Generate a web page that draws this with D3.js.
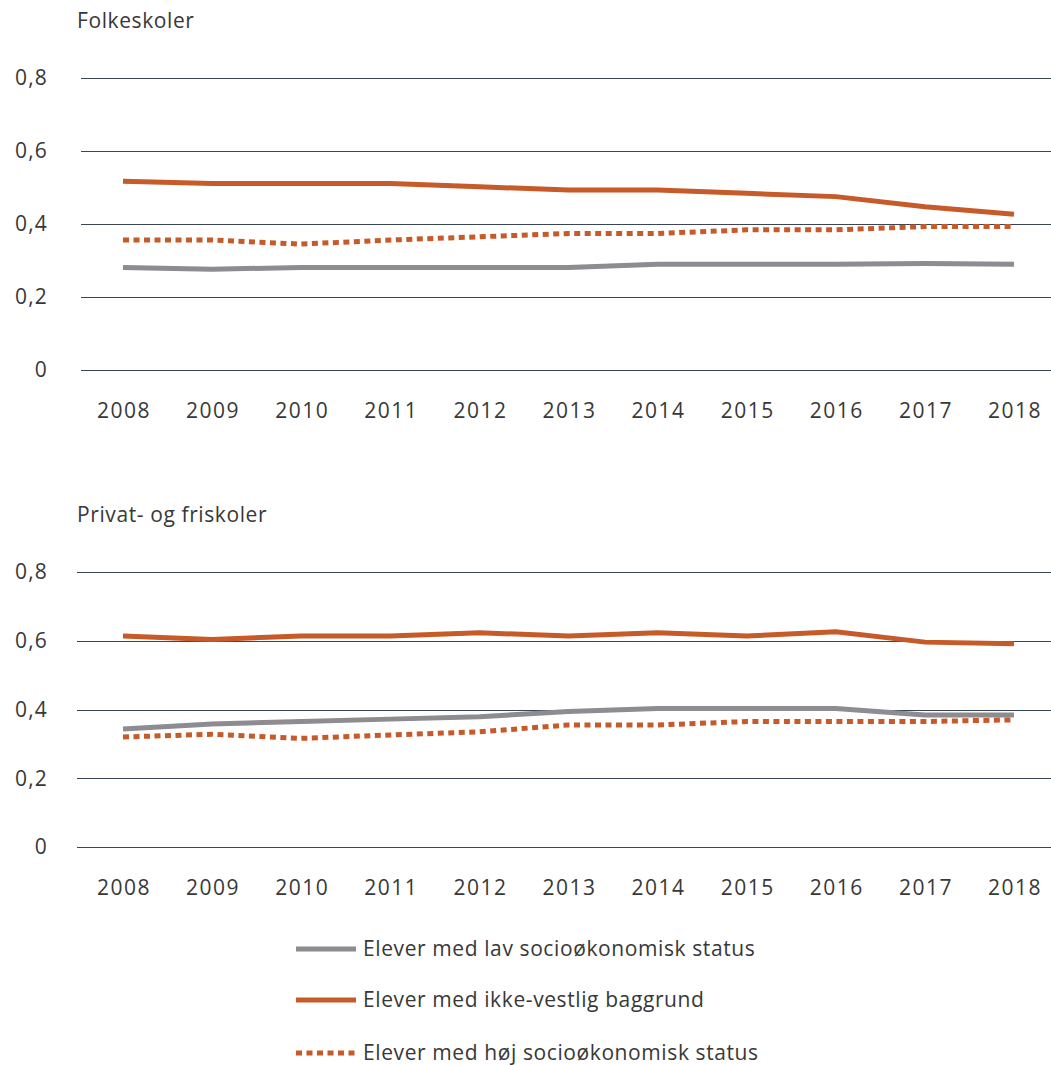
<!DOCTYPE html>
<html>
<head>
<meta charset="utf-8">
<script src="https://cdn.jsdelivr.net/npm/d3@7"></script>
<style>
  body { margin: 0; background: #fff; }
  text { font-family: "Open Sans", sans-serif; font-weight: 400; fill: #383838; font-size: 21px; letter-spacing: 0.6px; }
</style>
</head>
<body>
<div id="chart"></div>
<script>
// data
const years = [2008, 2009, 2010, 2011, 2012, 2013, 2014, 2015, 2016, 2017, 2018];
const yTicks = [0, 0.2, 0.4, 0.6, 0.8];

const folkLav  = [0.281, 0.276, 0.281, 0.281, 0.281, 0.281, 0.290, 0.290, 0.290, 0.292, 0.290];
const folkIkke = [0.517, 0.511, 0.511, 0.511, 0.502, 0.493, 0.493, 0.484, 0.475, 0.447, 0.427];
const folkHoj  = [0.356, 0.356, 0.345, 0.356, 0.365, 0.374, 0.374, 0.384, 0.384, 0.393, 0.393];

const privLav  = [0.343, 0.358, 0.365, 0.372, 0.379, 0.394, 0.403, 0.403, 0.403, 0.384, 0.384];
const privIkke = [0.614, 0.604, 0.614, 0.614, 0.623, 0.614, 0.623, 0.614, 0.626, 0.596, 0.591];
const privHoj  = [0.320, 0.328, 0.316, 0.326, 0.335, 0.355, 0.355, 0.365, 0.365, 0.365, 0.370];

const legendLabels = [
  "Elever med lav socioøkonomisk status",
  "Elever med ikke-vestlig baggrund",
  "Elever med høj socioøkonomisk status"
];

const GRAY = "#8c8c91";
const ORANGE = "#c65a28";
const styles = [
  { color: GRAY, dash: null },
  { color: ORANGE, dash: null },
  { color: ORANGE, dash: "6,4.5" }
];

const width = 1051, height = 1065;
const svg = d3.select("#chart").append("svg")
    .attr("width", width)
    .attr("height", height);

const x = d3.scalePoint()
    .domain(years)
    .range([123, 1014]);

const fmt = d => d === 0 ? "0" : d3.format(".1f")(d).replace(".", ",");

function drawPanel(opts) {
  const y = d3.scaleLinear()
      .domain([0, 0.8])
      .range([opts.bottom, opts.top]);

  const g = svg.append("g");

  // title
  g.append("text")
      .attr("x", 77)
      .attr("y", opts.top - 50)
      .text(opts.title);

  // gridlines
  g.selectAll(".grid")
    .data(yTicks)
    .enter().append("line")
      .attr("x1", opts.gridStart)
      .attr("x2", width)
      .attr("y1", d => Math.round(y(d)) + 0.5)
      .attr("y2", d => Math.round(y(d)) + 0.5)
      .attr("stroke", "#3a4654")
      .attr("stroke-width", 1);

  // y labels (letter-spacing adds a trailing gap, so nudge right)
  g.selectAll(".ylab")
    .data(yTicks)
    .enter().append("text")
      .attr("x", 48)
      .attr("y", d => y(d))
      .attr("dy", "0.35em")
      .attr("text-anchor", "end")
      .style("letter-spacing", "1.2px")
      .text(fmt);

  // x labels
  g.selectAll(".xlab")
    .data(years)
    .enter().append("text")
      .attr("x", d => x(d) + 1)
      .attr("y", opts.bottom + 41)
      .attr("dy", "0.35em")
      .attr("text-anchor", "middle")
      .style("letter-spacing", "1.5px")
      .text(d => d);

  const line = d3.line()
      .x((d, i) => x(years[i]))
      .y(d => y(d));

  opts.series.forEach((s, i) => {
    g.append("path")
        .datum(s)
        .attr("d", line)
        .attr("fill", "none")
        .attr("stroke", styles[i].color)
        .attr("stroke-width", 5)
        .attr("stroke-dasharray", styles[i].dash);
  });
}

drawPanel({ title: "Folkeskoler", top: 78, bottom: 370, gridStart: 81,
            series: [folkLav, folkIkke, folkHoj] });
drawPanel({ title: "Privat- og friskoler", top: 572, bottom: 847, gridStart: 77,
            series: [privLav, privIkke, privHoj] });

// legend
const legend = svg.append("g");
const legendY = [949, 1000, 1053];
legendLabels.forEach((lab, i) => {
  legend.append("line")
      .attr("x1", 296).attr("x2", 356)
      .attr("y1", legendY[i]).attr("y2", legendY[i])
      .attr("stroke", styles[i].color)
      .attr("stroke-width", 5)
      .attr("stroke-dasharray", styles[i].dash);
  legend.append("text")
      .attr("x", 363)
      .attr("y", legendY[i])
      .attr("dy", "0.35em")
      .text(lab);
});
</script>
</body>
</html>
